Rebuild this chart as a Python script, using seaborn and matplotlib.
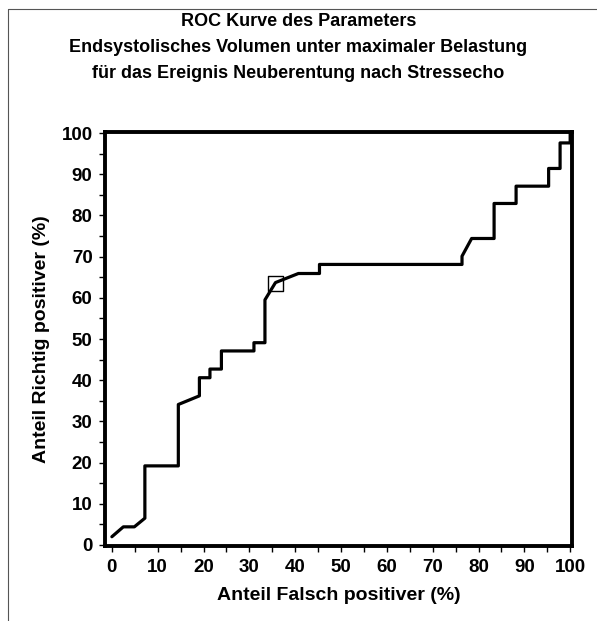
import matplotlib
matplotlib.use("Agg")
import matplotlib.pyplot as plt
import seaborn as sns
import pandas as pd
from matplotlib.lines import Line2D
from matplotlib.ticker import MultipleLocator

# ROC curve points (percent)
fpr = [0, 2.5, 4.9, 7.2, 7.2, 14.5, 14.5, 19.1, 19.1, 21.4, 21.4, 23.9, 23.9,
       31.0, 31.0, 33.4, 33.4, 35.7, 40.7, 45.3, 45.3, 76.4, 76.4, 78.5,
       83.4, 83.4, 88.2, 88.2, 95.3, 95.3, 97.8, 97.8, 100, 100]
tpr = [2.0, 4.4, 4.4, 6.5, 19.2, 19.2, 34.1, 36.2, 40.6, 40.6, 42.7, 42.7, 47.1,
       47.1, 49.1, 49.1, 59.5, 63.7, 65.9, 65.9, 68.1, 68.1, 70.1, 74.4,
       74.4, 82.9, 82.9, 87.1, 87.1, 91.4, 91.4, 97.6, 97.6, 100]

# optimal cut-off point
cut_fpr = [35.7]
cut_tpr = [63.5]

title_lines = ["ROC Kurve des Parameters",
               "Endsystolisches Volumen unter maximaler Belastung",
               "für das Ereignis Neuberentung nach Stressecho"]

df = pd.DataFrame({"fpr": fpr, "tpr": tpr})
df_cut = pd.DataFrame({"fpr": cut_fpr, "tpr": cut_tpr})

sns.set_style("white")
plt.rcParams["font.family"] = ["Liberation Sans", "DejaVu Sans"]
plt.rcParams["text.color"] = "black"
plt.rcParams["axes.labelcolor"] = "black"
plt.rcParams["xtick.color"] = "black"
plt.rcParams["ytick.color"] = "black"

fig = plt.figure(figsize=(5.97, 6.21), dpi=100)
ax = fig.add_axes([105 / 597, 1 - 546 / 621, 467 / 597, 414 / 621])

sns.lineplot(data=df, x="fpr", y="tpr", sort=False, estimator=None,
             color="black", linewidth=2.3, ax=ax)
sns.scatterplot(data=df_cut, x="fpr", y="tpr", marker="s", s=110,
                facecolor="none", edgecolor="black", linewidth=1.0, ax=ax, zorder=5)

ax.set_xlim(-1.5, 100.4)
ax.set_ylim(-0.25, 100.25)
ax.xaxis.set_major_locator(MultipleLocator(10))
ax.xaxis.set_minor_locator(MultipleLocator(5))
ax.yaxis.set_major_locator(MultipleLocator(10))
ax.yaxis.set_minor_locator(MultipleLocator(5))
ax.tick_params(which="both", direction="out", length=4, width=1, color="black",
               bottom=True, left=True, top=False, right=False)
ax.tick_params(which="major", labelsize=13.5, pad=5)
for lab in ax.get_xticklabels() + ax.get_yticklabels():
    lab.set_fontweight("bold")

for sp in ax.spines.values():
    sp.set_linewidth(2.8)
    sp.set_color("black")

ax.set_xlabel("Anteil Falsch positiver (%)", fontsize=14, fontweight="bold", labelpad=8)
ax.set_ylabel("Anteil Richtig positiver (%)", fontsize=14, fontweight="bold", labelpad=8)

ys = [21, 47, 73]
for t, yy in zip(title_lines, ys):
    fig.text(0.5, 1 - yy / 621, t, ha="center", va="center", fontsize=13,
             fontweight="bold")

# thin page frame (top and left)
fig.add_artist(Line2D([8 / 597, 1], [1 - 9 / 621, 1 - 9 / 621], color="#555555",
                      linewidth=0.8, transform=fig.transFigure))
fig.add_artist(Line2D([8 / 597, 8 / 597], [0, 1 - 9 / 621], color="#555555",
                      linewidth=0.8, transform=fig.transFigure))

fig.savefig("out.png", dpi=100)
